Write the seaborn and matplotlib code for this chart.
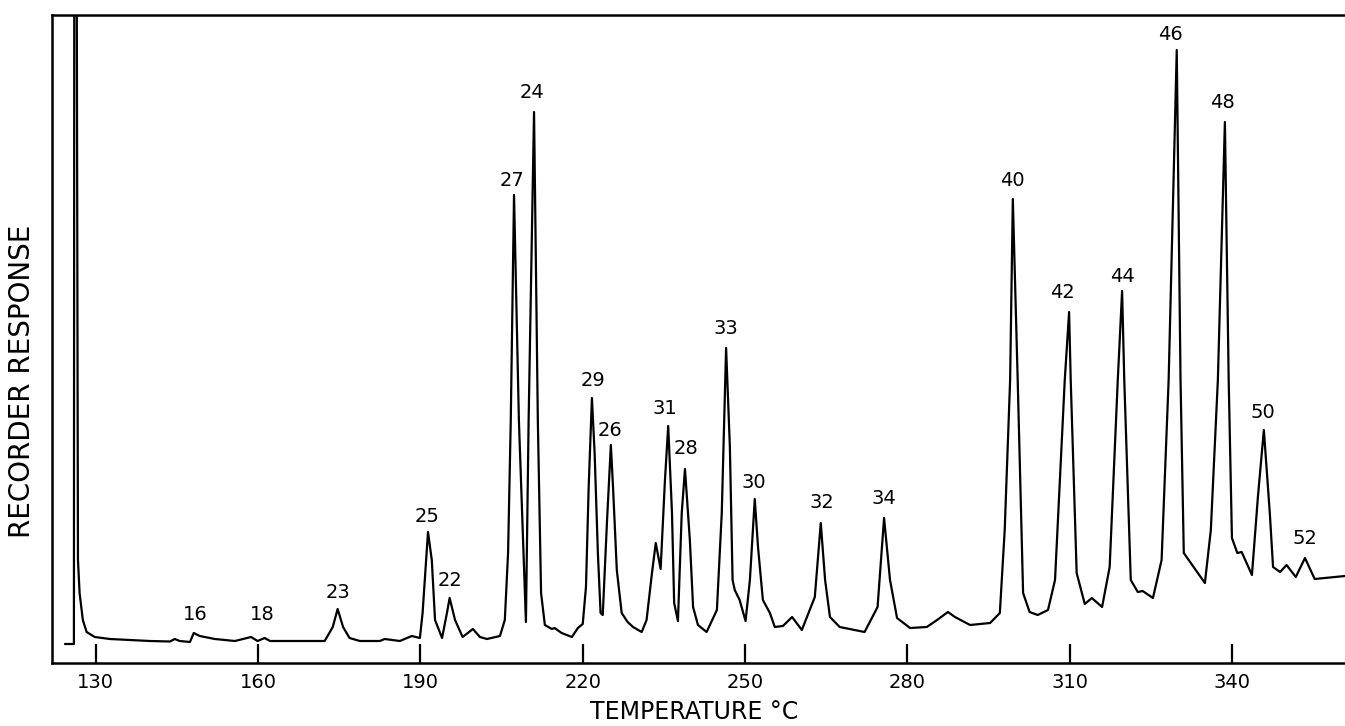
import numpy as np
import pandas as pd
import seaborn as sns
import matplotlib.pyplot as plt

# Trace (temperature in C, response in chart units)
temp = [124.3, 125.9, 125.95, 126.05, 126.35, 126.7, 127.0, 127.6, 128.3, 129.8,
        132.6, 136.3, 140.0, 143.7, 144.6, 145.5, 147.4, 148.1, 149.2, 152.0,
        155.7, 158.7, 159.9, 161.2, 162.2, 167.7, 172.3, 173.8, 174.7, 175.7,
        176.9, 178.8, 182.5, 183.4, 186.2, 188.4, 189.9, 190.4, 191.4, 192.1,
        192.7, 194.0, 194.9, 195.4, 196.4, 197.8, 199.7, 201.0, 202.3, 204.7,
        205.6, 206.2, 206.7, 207.3, 208.2, 209.5, 210.0, 211.0, 211.7, 212.3,
        213.0, 214.3, 214.8, 216.1, 218.0, 219.1, 220.0, 220.6, 221.1, 221.7,
        222.2, 222.8, 223.3, 223.7, 224.5, 225.2, 225.6, 226.3, 227.2, 228.3,
        229.3, 230.9, 231.8, 232.8, 233.5, 234.4, 235.2, 235.8, 236.5, 236.9,
        237.6, 238.3, 238.9, 239.8, 240.4, 241.3, 242.9, 244.8, 245.7, 246.5,
        247.2, 247.7, 248.1, 249.0, 250.1, 250.9, 251.8, 252.4, 253.3, 254.6,
        255.5, 257.0, 258.7, 260.5, 262.9, 264.0, 264.8, 265.7, 267.5, 272.1,
        274.5, 275.7, 276.8, 278.1, 280.5, 283.6, 285.5, 287.5, 288.8, 291.6,
        295.3, 297.1, 298.0, 299.0, 299.5, 300.4, 301.4, 302.6, 304.1, 306.0,
        307.3, 309.1, 309.9, 310.2, 311.3, 312.8, 314.1, 316.0, 317.4, 318.9,
        319.7, 320.1, 321.3, 322.6, 323.5, 325.4, 327.0, 328.3, 329.8, 330.5,
        331.1, 333.3, 335.0, 336.1, 337.4, 338.7, 339.4, 340.0, 341.0, 341.8,
        343.7, 344.8, 345.9, 347.0, 347.6, 348.9, 350.1, 351.8, 353.5, 355.3,
        357.2, 359.0, 360.9]
response = [19, 19, 19, 1000, 1000, 103, 70, 43, 31, 26,
            24, 23, 22, 21.5, 24, 22, 21, 30, 27, 24,
            22, 26, 22, 25, 22, 22, 22, 36, 54, 36,
            25, 22, 22, 24, 22, 27, 25, 50, 131, 103,
            43, 25, 50, 65, 43, 26, 34, 26, 24, 27,
            43, 110, 243, 468, 243, 41, 243, 551, 243, 70,
            38, 34, 35, 30, 26, 35, 39, 76, 176, 265,
            210, 110, 50, 48, 143, 218, 176, 93, 50, 41,
            36, 31, 43, 90, 120, 94, 183, 237, 150, 60,
            42, 150, 194, 123, 56, 38, 31, 53, 150, 315,
            216, 83, 73, 63, 42, 83, 164, 116, 63, 50,
            36, 37, 46, 33, 66, 140, 83, 46, 36, 31,
            56, 145, 83, 45, 35, 36, 43, 51, 46, 38,
            40, 50, 133, 283, 464, 283, 70, 51, 48, 53,
            83, 283, 351, 283, 90, 59, 65, 56, 96, 283,
            372, 283, 83, 71, 72, 65, 103, 283, 613, 283,
            110, 93, 80, 133, 283, 541, 283, 125, 110, 111,
            88, 166, 233, 150, 96, 91, 98, 86, 105, 84,
            85, 86, 87]

# Peak numbers and where they are written
peak_labels = ['16', '18', '23', '25', '22', '27', '24', '29', '26', '31', '28',
               '33', '30', '32', '34', '40', '42', '44', '46', '48', '50', '52']
label_temp = [148.3, 160.7, 174.7, 191.2, 195.4, 206.9, 210.6, 221.9, 225.0, 235.2, 239.1,
              246.5, 251.6, 264.2, 275.7, 299.5, 308.7, 319.7, 328.7, 338.3, 345.7, 353.5]
label_resp = [48, 48, 70, 146, 83, 483, 570, 282, 233, 255, 215,
              334, 180, 160, 165, 483, 371, 387, 628, 561, 251, 125]

xticks = [130, 160, 190, 220, 250, 280, 310, 340]

data = pd.DataFrame({'Temperature': temp, 'Response': response})

sns.set_theme(style='ticks')
plt.rcParams['font.family'] = ['DejaVu Sans']

fig = plt.figure(figsize=(13.45, 7.26), dpi=100)
ax = fig.add_axes([52 / 1345, 63 / 726, 1293 / 1345, 648 / 726])

sns.lineplot(x='Temperature', y='Response', data=data, sort=False, estimator=None,
             color='black', linewidth=1.6, ax=ax)

for lab, t, r in zip(peak_labels, label_temp, label_resp):
    ax.text(t, r, lab, ha='center', va='center', fontsize=14, color='black')

ax.set_xlim(121.9, 360.9)
ax.set_ylim(0, 648)
ax.set_xticks(xticks)
ax.set_yticks([])
ax.tick_params(axis='x', direction='in', length=14, width=1.6, pad=7,
               labelsize=14, colors='black')

for side in ['left', 'top', 'bottom']:
    ax.spines[side].set_linewidth(1.8)
    ax.spines[side].set_color('black')
ax.spines['right'].set_visible(False)

# axis titles placed by hand like on the original chart
ax.set_xlabel('TEMPERATURE °C', fontsize=17, color='black', va='center')
ax.xaxis.set_label_coords(0.497, -0.0756)
ax.set_ylabel('RECORDER RESPONSE', fontsize=20, color='black', va='center')
ax.yaxis.set_label_coords(-0.0232, 0.435)

fig.savefig('out.png', dpi=100)
